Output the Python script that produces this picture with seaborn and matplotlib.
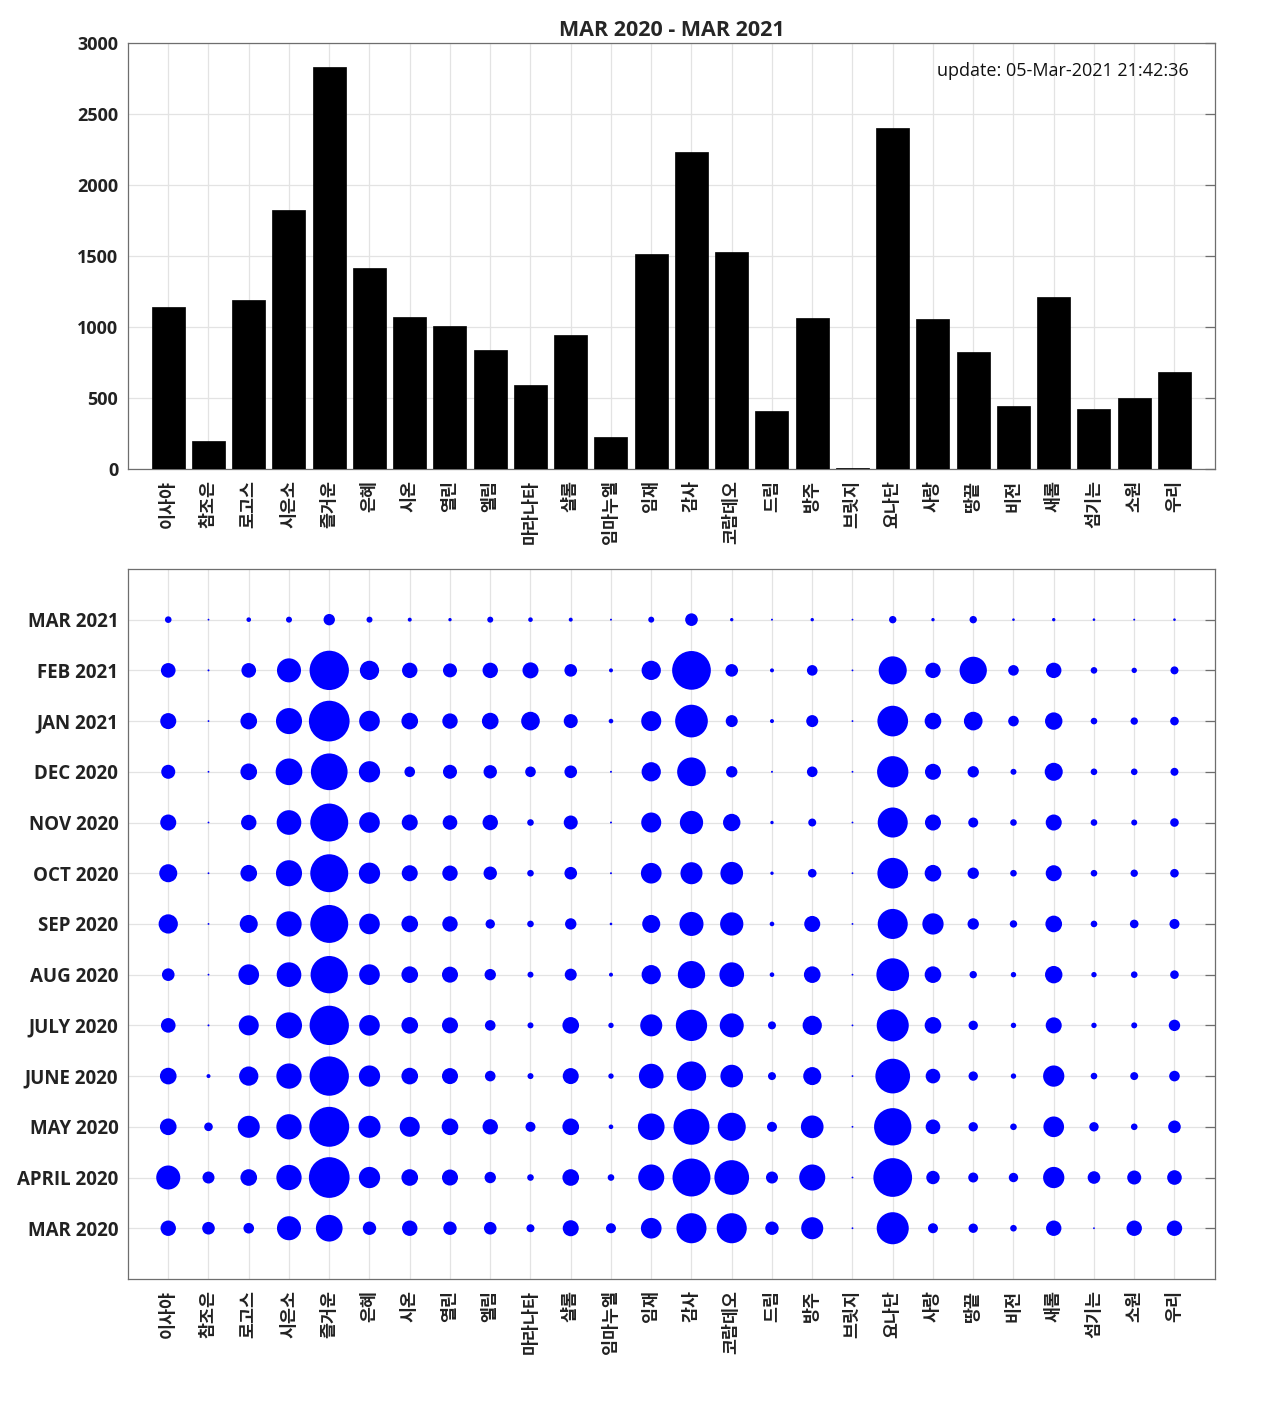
import numpy as np
import pandas as pd
import matplotlib
matplotlib.use("Agg")
import matplotlib.pyplot as plt
import seaborn as sns

# ---------------- data ----------------
churches = ["이사야", "참조은", "로고스", "시은소", "즐거운", "은혜", "시온", "열린", "엘림",
            "마라나타", "샬롬", "임마누엘", "임재", "감사", "코람데오", "드림", "방주", "브릿지",
            "요나단", "사랑", "땅끝", "비전", "새롬", "섬기는", "소원", "우리"]

totals = [1140, 195, 1190, 1825, 2830, 1418, 1070, 1005, 840, 590, 942, 228, 1515, 2232,
          1530, 410, 1065, 8, 2400, 1058, 825, 442, 1210, 422, 502, 685]

month_labels = ["MAR 2020", "APRIL 2020", "MAY 2020", "JUNE 2020", "JULY 2020", "AUG 2020",
                "SEP 2020", "OCT 2020", "NOV 2020", "DEC 2020", "JAN 2021", "FEB 2021", "MAR 2021"]

mar_2020 = [89, 71, 58, 145, 162, 76, 89, 76, 71, 41, 93, 54, 123, 184, 184, 76, 132, 1, 197, 54, 50, 32, 89, 1, 89, 89]
apr_2020 = [145, 67, 97, 153, 253, 127, 97, 93, 63, 32, 97, 32, 158, 235, 214, 67, 158, 1, 240, 76, 54, 50, 127, 71, 80, 84]
may_2020 = [97, 45, 132, 153, 248, 132, 119, 97, 89, 54, 97, 19, 162, 222, 171, 54, 136, 1, 231, 84, 50, 32, 123, 50, 32, 71]
jun_2020 = [97, 15, 114, 153, 244, 127, 97, 93, 58, 28, 93, 24, 149, 179, 136, 41, 106, 1, 214, 84, 50, 24, 127, 32, 41, 58]
jul_2020 = [84, 2, 119, 158, 244, 123, 97, 93, 58, 28, 97, 24, 132, 192, 145, 41, 114, 1, 197, 97, 50, 24, 93, 24, 28, 63]
aug_2020 = [71, 1, 123, 149, 231, 123, 97, 93, 63, 28, 67, 15, 114, 166, 149, 19, 97, 1, 201, 97, 37, 24, 102, 24, 32, 45]
sep_2020 = [114, 1, 106, 153, 235, 123, 97, 89, 50, 32, 63, 6, 106, 145, 140, 19, 93, 1, 184, 127, 63, 37, 97, 32, 45, 54]
oct_2020 = [106, 1, 97, 158, 235, 127, 93, 89, 76, 32, 71, 2, 123, 132, 136, 11, 45, 1, 188, 97, 63, 32, 93, 32, 37, 45]
nov_2020 = [93, 1, 89, 149, 235, 123, 93, 84, 89, 32, 80, 2, 119, 140, 102, 11, 41, 1, 184, 93, 54, 32, 93, 32, 28, 45]
dec_2020 = [80, 1, 97, 162, 227, 127, 58, 80, 76, 58, 71, 2, 114, 175, 63, 2, 58, 1, 192, 93, 63, 28, 106, 32, 32, 41]
jan_2021 = [93, 1, 97, 158, 253, 123, 97, 89, 97, 110, 80, 19, 119, 201, 67, 15, 67, 1, 188, 97, 110, 58, 102, 32, 37, 45]
feb_2021 = [84, 2, 84, 145, 244, 114, 89, 80, 89, 93, 71, 15, 114, 240, 71, 15, 58, 1, 171, 89, 166, 58, 89, 32, 24, 41]
mar_2021 = [32, 1, 19, 28, 63, 28, 15, 11, 28, 19, 15, 2, 28, 71, 11, 2, 11, 1, 37, 11, 37, 6, 11, 6, 2, 6]

monthly = [mar_2020, apr_2020, may_2020, jun_2020, jul_2020, aug_2020, sep_2020,
           oct_2020, nov_2020, dec_2020, jan_2021, feb_2021, mar_2021]

title_text = "MAR 2020 - MAR 2021"
update_text = "update: 05-Mar-2021 21:42:36"

# ---------------- style ----------------
sns.set_style("white")
plt.rcParams["font.family"] = ["Open Sans", "Noto Sans CJK KR", "DejaVu Sans"]
KR = ["Noto Sans CJK KR", "DejaVu Sans"]

DPI = 100
fig = plt.figure(figsize=(12.8, 14.22), dpi=DPI)
ax1 = fig.add_axes([0.1, 0.6702, 0.849, 0.2996])
ax2 = fig.add_axes([0.1, 0.1006, 0.849, 0.4993])

spine_col = "#6e6e6e"
grid_col = "#e3e3e3"

# ---------------- bar chart ----------------
bar_df = pd.DataFrame({"church": churches, "total": totals})
sns.barplot(data=bar_df, x="church", y="total", color="black", saturation=1,
            width=0.82, edgecolor="black", linewidth=0.5, ax=ax1, zorder=3)
ax1.set_xlim(-1, len(churches))
ax1.set_ylim(0, 3000)
ax1.set_yticks(np.arange(0, 3001, 500))
ax1.set_yticklabels([str(v) for v in range(0, 3001, 500)], fontsize=13, fontweight="bold")
ax1.set_xticks(np.arange(len(churches)))
ax1.set_xticklabels(churches, rotation=90, fontsize=12.5, fontweight="bold", family=KR)
ax1.set_xlabel("")
ax1.set_ylabel("")
ax1.set_title(title_text, fontsize=15.5, fontweight="bold", pad=5)
ax1.text(0.976, 0.935, update_text, transform=ax1.transAxes, ha="right", va="center",
         fontsize=13, color="#111111")

# ---------------- bubble chart ----------------
rows = []
for mi, vals in enumerate(monthly):
    for ci, v in enumerate(vals):
        rows.append((ci, mi, v))
bub_df = pd.DataFrame(rows, columns=["xi", "yi", "value"])
diam_px = 1.67 + 0.1543 * bub_df["value"].to_numpy()
sizes = (diam_px * 72.0 / DPI) ** 2
sns.scatterplot(data=bub_df, x="xi", y="yi", s=sizes, color="#0000ff", edgecolor="none",
                linewidth=0, ax=ax2, legend=False, zorder=3)
ax2.set_xlim(-1, len(churches))
ax2.set_ylim(-1, len(month_labels))
ax2.set_xticks(np.arange(len(churches)))
ax2.set_xticklabels(churches, rotation=90, fontsize=12.5, fontweight="bold", family=KR)
ax2.set_yticks(np.arange(len(month_labels)))
ax2.set_yticklabels(month_labels, fontsize=13.5, fontweight="bold")
ax2.set_xlabel("")
ax2.set_ylabel("")

for ax in (ax1, ax2):
    ax.grid(True, color=grid_col, linewidth=0.9, zorder=0)
    ax.set_axisbelow(True)
    for sp in ax.spines.values():
        sp.set_visible(True)
        sp.set_color(spine_col)
        sp.set_linewidth(0.9)
    ax.tick_params(axis="both", direction="in", length=7, width=0.9, color=spine_col,
                   labelcolor="#222222", top=False, right=True, pad=7)
    ax.tick_params(axis="x", length=0, pad=8)

fig.savefig("out.png", dpi=DPI, facecolor="white")
